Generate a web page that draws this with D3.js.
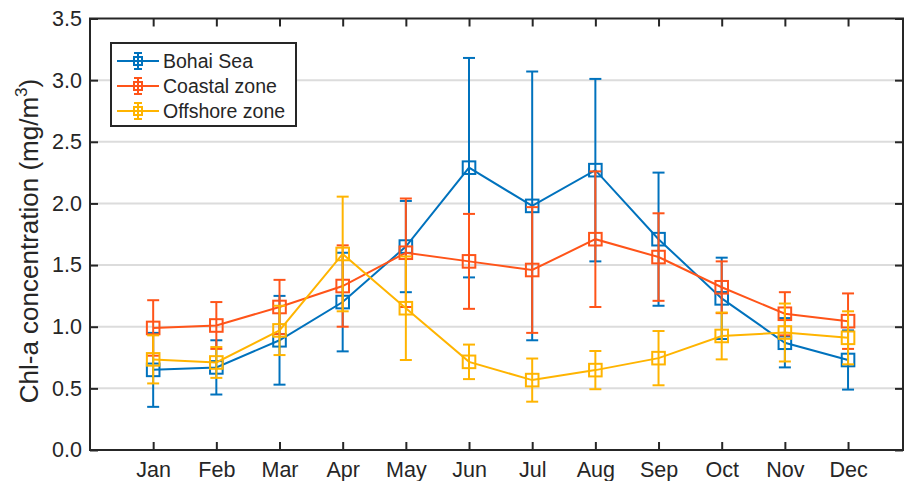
<!DOCTYPE html>
<html>
<head>
<meta charset="utf-8">
<script src="https://cdn.jsdelivr.net/npm/d3@7"></script>
<style>
  body { margin: 0; background: #fff; }
  text { font-family: Arial, "Liberation Sans", sans-serif; fill: #262626; }
</style>
</head>
<body>
<svg id="chart"></svg>
<script>
// monthly Chl-a means and error half-widths
const months = ["Jan", "Feb", "Mar", "Apr", "May", "Jun", "Jul", "Aug", "Sep", "Oct", "Nov", "Dec"];
const seriesNames = ["Bohai Sea", "Coastal zone", "Offshore zone"];
const seriesColors = ["#0072BD", "#FF5419", "#FFB400"];

const bohaiMean = [0.65, 0.67, 0.89, 1.20, 1.65, 2.29, 1.98, 2.27, 1.71, 1.23, 0.87, 0.73];
const bohaiErr = [0.30, 0.22, 0.36, 0.40, 0.37, 0.89, 1.09, 0.74, 0.54, 0.33, 0.20, 0.24];
const coastalMean = [0.99, 1.01, 1.16, 1.33, 1.60, 1.53, 1.46, 1.71, 1.565, 1.32, 1.105, 1.045];
const coastalErr = [0.225, 0.19, 0.22, 0.33, 0.44, 0.385, 0.51, 0.55, 0.355, 0.21, 0.175, 0.225];
const offshoreMean = [0.735, 0.71, 0.97, 1.59, 1.15, 0.715, 0.567, 0.648, 0.745, 0.925, 0.953, 0.91];
const offshoreErr = [0.195, 0.125, 0.20, 0.465, 0.42, 0.14, 0.175, 0.155, 0.22, 0.19, 0.235, 0.215];

const yTicks = [0, 0.5, 1.0, 1.5, 2.0, 2.5, 3.0, 3.5];

const svgWidth = 906, svgHeight = 481;
const margin = { top: 18.5, right: 3, bottom: 31, left: 90 };
const width = svgWidth - margin.left - margin.right,
      height = svgHeight - margin.top - margin.bottom;

const svg = d3.select("#chart")
    .attr("width", svgWidth)
    .attr("height", svgHeight);

const g = svg.append("g")
    .attr("transform", `translate(${margin.left},${margin.top})`);

// month index 1..12, a bit of room left and right
const x = d3.scaleLinear().domain([0, 12.87]).range([0, width]);
const y = d3.scaleLinear().domain([0, 3.5]).range([height, 0]);

// grid
g.append("g")
    .selectAll("line")
    .data(yTicks.filter(d => d > 0 && d < 3.5))
    .join("line")
    .attr("x1", 0).attr("x2", width)
    .attr("y1", d => y(d)).attr("y2", d => y(d))
    .attr("stroke", "#dcdcdc")
    .attr("stroke-width", 2);

const series = [
    { name: seriesNames[0], color: seriesColors[0], mean: bohaiMean, err: bohaiErr },
    { name: seriesNames[1], color: seriesColors[1], mean: coastalMean, err: coastalErr },
    { name: seriesNames[2], color: seriesColors[2], mean: offshoreMean, err: offshoreErr }
];

const capHalf = 6, markerHalf = 6.3;
const line = d3.line().x((d, i) => x(i + 1)).y(d => y(d));

series.forEach(s => {
    const sg = g.append("g").attr("stroke", s.color).attr("fill", "none").attr("stroke-width", 2);
    const pts = s.mean.map((m, i) => ({ i: i + 1, m: m, e: s.err[i] }));

    sg.append("path").attr("d", line(s.mean));

    const eb = sg.selectAll("g.eb").data(pts).join("g").attr("class", "eb");
    eb.append("line")
        .attr("x1", d => x(d.i)).attr("x2", d => x(d.i))
        .attr("y1", d => y(d.m - d.e)).attr("y2", d => y(d.m + d.e));
    eb.append("line")
        .attr("x1", d => x(d.i) - capHalf).attr("x2", d => x(d.i) + capHalf)
        .attr("y1", d => y(d.m + d.e)).attr("y2", d => y(d.m + d.e));
    eb.append("line")
        .attr("x1", d => x(d.i) - capHalf).attr("x2", d => x(d.i) + capHalf)
        .attr("y1", d => y(d.m - d.e)).attr("y2", d => y(d.m - d.e));
    eb.append("rect")
        .attr("x", d => x(d.i) - markerHalf).attr("y", d => y(d.m) - markerHalf)
        .attr("width", markerHalf * 2).attr("height", markerHalf * 2);
});

// axes box with inward ticks
const axisColor = "#262626";
const frame = g.append("g").attr("stroke", axisColor).attr("stroke-width", 2);
frame.append("rect").attr("x", 0).attr("y", 0).attr("width", width).attr("height", height).attr("fill", "none");

const xAxis = g.append("g")
    .attr("transform", `translate(0,${height})`)
    .call(d3.axisBottom(x).tickValues(d3.range(1, 13)).tickFormat(d => months[d - 1]).tickSizeInner(-8).tickSizeOuter(0).tickPadding(12));
const xAxisTop = g.append("g")
    .call(d3.axisTop(x).tickValues(d3.range(1, 13)).tickFormat("").tickSizeInner(-8).tickSizeOuter(0));
const yAxis = g.append("g")
    .call(d3.axisLeft(y).tickValues(yTicks).tickFormat(d3.format(".1f")).tickSizeInner(-8).tickSizeOuter(0).tickPadding(8));
const yAxisRight = g.append("g")
    .attr("transform", `translate(${width},0)`)
    .call(d3.axisRight(y).tickValues(yTicks).tickFormat("").tickSizeInner(-8).tickSizeOuter(0));

[xAxis, xAxisTop, yAxis, yAxisRight].forEach(a => {
    a.select(".domain").remove();
    a.selectAll(".tick line").attr("stroke", axisColor).attr("stroke-width", 2);
    a.selectAll("text").style("font-size", "21.5px").attr("fill", axisColor);
});

// y label
svg.append("text")
    .attr("transform", `translate(38,241) rotate(-90)`)
    .attr("text-anchor", "middle")
    .style("font-size", "26px")
    .html('Chl-a concentration (mg/m<tspan dy="-11" font-size="17px">3</tspan><tspan dy="11">)</tspan>');

// legend
const lg = svg.append("g").attr("transform", "translate(111,43)");
lg.append("rect")
    .attr("width", 185).attr("height", 83)
    .attr("fill", "#fff").attr("stroke", axisColor).attr("stroke-width", 2);

series.forEach((s, i) => {
    const row = lg.append("g").attr("transform", `translate(0,${18 + i * 25})`);
    const rg = row.append("g").attr("stroke", s.color).attr("stroke-width", 2).attr("fill", "none");
    rg.append("line").attr("x1", 6).attr("x2", 48).attr("y1", 0).attr("y2", 0);
    rg.append("line").attr("x1", 27).attr("x2", 27).attr("y1", -8).attr("y2", 8);
    rg.append("line").attr("x1", 23).attr("x2", 31).attr("y1", -8).attr("y2", -8);
    rg.append("line").attr("x1", 23).attr("x2", 31).attr("y1", 8).attr("y2", 8);
    rg.append("rect").attr("x", 23).attr("y", -4).attr("width", 8).attr("height", 8);
    row.append("text")
        .attr("x", 52).attr("y", 7)
        .style("font-size", "19.5px")
        .text(s.name);
});
</script>
</body>
</html>
